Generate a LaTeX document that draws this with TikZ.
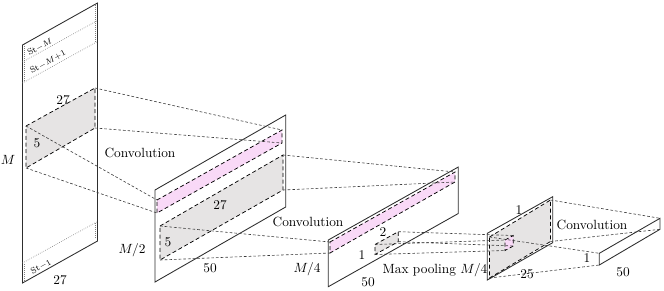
\documentclass[tikz,border=0pt]{standalone}
\usepackage{tikz}
\usetikzlibrary{positioning,calc}
\definecolor{Frame}{HTML}{2E2E2E}
\definecolor{Shade}{HTML}{E6E4E4}
\definecolor{Blush}{HTML}{F9D9F7}
\definecolor{Guide}{HTML}{3A3A3A}

\begin{document}
\begin{tikzpicture}[x=0.75pt,y=-0.75pt,
    panel/.style={draw=Frame,fill=white,line width=.65pt},
    area/.style={draw=black,line width=.55pt,dash pattern=on 3pt off 2pt},
    guide/.style={draw=Guide,line width=.45pt,dash pattern=on 2pt off 1.5pt},
    band/.style={draw=gray,line width=.5pt,densely dotted},
    stlabel/.style={rotate=29,inner sep=0pt,font=\fontsize{6.5}{7}\selectfont}]
  \useasboundingbox (0,0) rectangle (664,290);

  % input window
  \coordinate (in-tl) at (22.5,45);  \coordinate (in-tr) at (97.5,3);
  \coordinate (in-br) at (97.5,241); \coordinate (in-bl) at (22.5,283);
  \draw[panel] (in-tl) -- (in-tr) -- (in-br) -- (in-bl) -- cycle;
  \draw[band] (22.5,62) -- (97.5,20.5);
  \draw[band] (22.5,83) -- (97.5,41.5);
  \draw[band] (22.5,263) -- (97.5,221.5);
  \draw[band] (24.7,44) -- (24.7,82);   \draw[band] (95.3,5) -- (95.3,42.5);
  \draw[band] (24.7,264) -- (24.7,281); \draw[band] (95.3,223) -- (95.3,239);
  \coordinate (g1-tl) at (26,126); \coordinate (g1-tr) at (95,88);
  \coordinate (g1-br) at (95,128); \coordinate (g1-bl) at (26,168);
  \draw[area,fill=Shade] (g1-tl) -- (g1-tr) -- (g1-br) -- (g1-bl) -- cycle;

  % first convolution
  \coordinate (c1-tl) at (155,190);   \coordinate (c1-tr) at (285.7,115);
  \coordinate (c1-br) at (285.7,207); \coordinate (c1-bl) at (155,282);
  \draw[panel] (c1-tl) -- (c1-tr) -- (c1-br) -- (c1-bl) -- cycle;
  \coordinate (p1-tl) at (157,200); \coordinate (p1-tr) at (282,130);
  \coordinate (p1-br) at (282,143); \coordinate (p1-bl) at (157,213);
  \draw[area,fill=Blush] (p1-tl) -- (p1-tr) -- (p1-br) -- (p1-bl) -- cycle;
  \coordinate (g2-tl) at (160,226); \coordinate (g2-tr) at (283,155);
  \coordinate (g2-br) at (283,190); \coordinate (g2-bl) at (160,260);
  \draw[area,fill=Shade] (g2-tl) -- (g2-tr) -- (g2-br) -- (g2-bl) -- cycle;

  % second convolution
  \coordinate (c2-tl) at (328.3,240);   \coordinate (c2-tr) at (458.3,167);
  \coordinate (c2-br) at (458.3,213.5); \coordinate (c2-bl) at (328.3,286.7);
  \draw[panel] (c2-tl) -- (c2-tr) -- (c2-br) -- (c2-bl) -- cycle;
  \coordinate (p2-tl) at (330,242); \coordinate (p2-tr) at (455,172);
  \coordinate (p2-br) at (455,182); \coordinate (p2-bl) at (330,253);
  \draw[area,fill=Blush] (p2-tl) -- (p2-tr) -- (p2-br) -- (p2-bl) -- cycle;
  \coordinate (g3-tl) at (375,244.5); \coordinate (g3-tr) at (398.3,231.7);
  \coordinate (g3-br) at (398.3,241.7); \coordinate (g3-bl) at (375,254.5);
  \draw[area,fill=Shade] (g3-tl) -- (g3-tr) -- (g3-br) -- (g3-bl) -- cycle;

  % max pooling
  \coordinate (mp-tl) at (487.3,233.3); \coordinate (mp-tr) at (552.7,196.7);
  \coordinate (mp-br) at (552.7,242.7); \coordinate (mp-bl) at (487.3,280);
  \draw[panel] (mp-tl) -- (mp-tr) -- (mp-br) -- (mp-bl) -- cycle;
  \coordinate (g4-tl) at (489.5,237);   \coordinate (g4-tr) at (550.5,200);
  \coordinate (g4-br) at (550.5,241.5); \coordinate (g4-bl) at (489.5,278);
  \draw[area,fill=Shade] (g4-tl) -- (g4-tr) -- (g4-br) -- (g4-bl) -- cycle;
  \coordinate (p3-tl) at (505,240);   \coordinate (p3-tr) at (513.3,235.5);
  \coordinate (p3-br) at (513.3,246); \coordinate (p3-bl) at (505,250.5);
  \draw[area,fill=Blush] (p3-tl) -- (p3-tr) -- (p3-br) -- (p3-bl) -- cycle;

  % output
  \coordinate (out-tl) at (599.3,253.3); \coordinate (out-tr) at (660,218.3);
  \coordinate (out-br) at (660,229.3);   \coordinate (out-bl) at (599.3,265);
  \draw[panel] (out-tl) -- (out-tr) -- (out-br) -- (out-bl) -- cycle;

  % projections
  \foreach \c in {tl,tr,br,bl}{
    \draw[guide] (g1-\c) -- (p1-\c);
    \draw[guide] (g2-\c) -- (p2-\c);
    \draw[guide] (g3-\c) -- (p3-\c);
    \draw[guide] (g4-\c) -- (out-\c);
  }

  % labels
  \node (rows) at (8,160) {$M$};
  \node (w1) at (63,100) {27};
  \node (h1) at (37,143) {5};
  \node (cols) at (60,280) {27};
  \node[stlabel] (s1) at (40,47) {St$-M$};
  \node[stlabel] (s2) at (48,62) {St$-M{+}1$};
  \node[stlabel] (s3) at (41,267) {St$-1$};
  \node (conv1) at (140,153) {Convolution};
  \node (rows2) at (132,250) {$M/2$};
  \node (w2) at (220,205) {27};
  \node (h2) at (168,242) {5};
  \node (cols2) at (210,268) {50};
  \node (conv2) at (308,222) {Convolution};
  \node (rows3) at (307,269) {$M/4$};
  \node (cols3) at (368,282) {50};
  \node (k2) at (383,232) {2};
  \node (k1) at (362,255) {1};
  \node (pool) at (435,270) {Max pooling $M/4$};
  \node (w4) at (519,210) {1};
  \node (cols4) at (527,274) {25};
  \node (conv3) at (592,225) {Convolution};
  \node (rows5) at (587,258) {1};
  \node (cols5) at (623,272) {50};
\end{tikzpicture}
\end{document}
